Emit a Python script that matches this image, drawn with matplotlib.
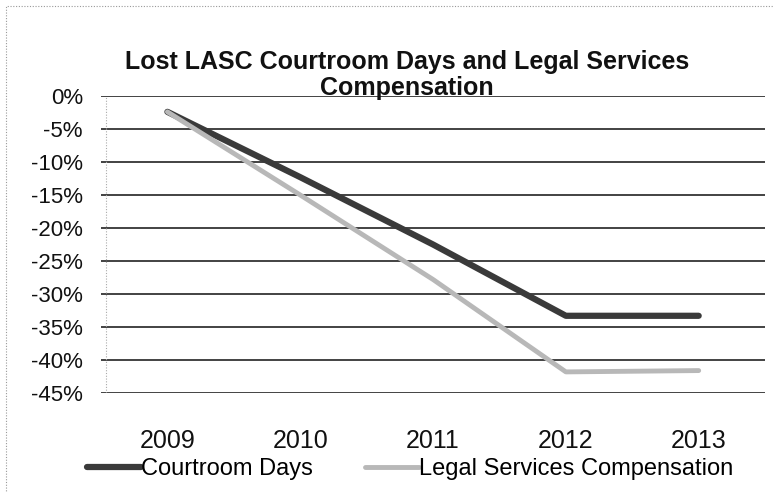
import numpy as np
import matplotlib
matplotlib.use("Agg")
import matplotlib.pyplot as plt
from matplotlib.ticker import FuncFormatter
from matplotlib.patches import Rectangle

# data (percent change vs. baseline)
years = ["2009", "2010", "2011", "2012", "2013"]
courtroom_days = [-2.4, -12.3, -22.5, -33.3, -33.3]
legal_services = [-2.4, -15.0, -27.8, -41.8, -41.6]
y_ticks = list(range(-45, 1, 5))

plt.rcParams["font.family"] = ["Liberation Sans", "DejaVu Sans"]

fig = plt.figure(figsize=(7.74, 4.93), dpi=100)
ax = fig.add_axes([0.1305, 0.2028, 0.858, 0.6025])

# dotted frame around the whole chart
fig.patches.append(Rectangle((0.008, -0.02), 1.2, 1.007, transform=fig.transFigure,
                             fill=False, ec="#999999", lw=0.8, ls=(0, (1, 1.5))))

x = np.arange(len(years))
ax.plot(x, courtroom_days, color="#3a3a3a", lw=4.5, solid_capstyle="round",
        label="Courtroom Days", zorder=3)
ax.plot(x, legal_services, color="#b8b8b8", lw=3.5, solid_capstyle="round",
        label="Legal Services Compensation", zorder=3)

ax.set_xlim(-0.5, len(years) - 0.5)
ax.set_ylim(-45, 0)
ax.set_yticks(y_ticks)
ax.yaxis.set_major_formatter(FuncFormatter(lambda v, p: f"{int(round(v))}%"))
ax.set_xticks(x)
ax.set_xticklabels(years)

ax.grid(axis="y", color="#222222", lw=1.2)
ax.set_axisbelow(True)
for s in ax.spines.values():
    s.set_visible(False)
ax.axvline(-0.46, ymin=0, ymax=1, color="#aaaaaa", lw=0.8, ls=(0, (1, 1.5)), zorder=1)

ax.tick_params(axis="y", length=0, labelsize=16, pad=13, colors="#111111")
ax.tick_params(axis="x", length=0, labelsize=18, pad=26, colors="#111111")

fig.text(0.526, 0.847, "Lost LASC Courtroom Days and Legal Services\nCompensation",
         ha="center", va="center", fontsize=18, fontweight="bold",
         linespacing=1.1, color="#111111")

fig.legend(loc="center", bbox_to_anchor=(0.53, 0.049), ncol=2, frameon=False,
           fontsize=17, handlelength=2.3, handletextpad=0.0, columnspacing=2.2)

fig.savefig("out.png", dpi=100, facecolor="white")
